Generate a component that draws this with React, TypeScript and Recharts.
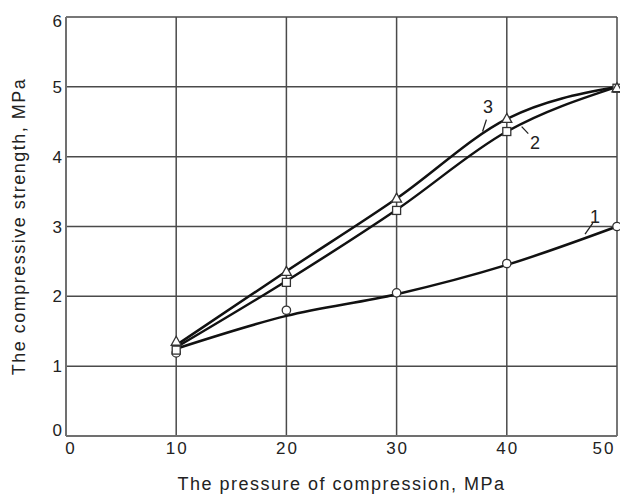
import React from 'react';
import {
  ComposedChart,
  Line,
  XAxis,
  YAxis,
  CartesianGrid,
  ReferenceDot,
  ReferenceLine,
  Label,
} from 'recharts';

// pressure of compression, MPa
const pressure = [10, 20, 30, 40, 50];

// smoothed curves as drawn
const curve1 = [1.25, 1.72, 2.03, 2.45, 3.0];
const curve2 = [1.27, 2.22, 3.24, 4.36, 5.0];
const curve3 = [1.3, 2.36, 3.4, 4.54, 5.0];

// measured points (markers)
const points1 = [1.19, 1.8, 2.05, 2.47, 3.0];
const points2 = [1.23, 2.2, 3.23, 4.36, 4.98];
const points3 = [1.35, 2.35, 3.4, 4.54, 4.98];

const xTicks = [0, 10, 20, 30, 40, 50];
const yTicks = [0, 1, 2, 3, 4, 5, 6];

const data = pressure.map((p, i) => ({
  p,
  c1: curve1[i],
  c2: curve2[i],
  c3: curve3[i],
  m1: points1[i],
  m2: points2[i],
  m3: points3[i],
}));

const INK = '#111';
const TEXT = '#222';
const GRID = '#4a4a4a';

const CircleDot = (props: any) => (
  <circle key={`c-${props.index}`} cx={props.cx} cy={props.cy} r={4.2} fill="#fff" stroke="#333" strokeWidth={1.3} />
);

const SquareDot = (props: any) => (
  <rect key={`s-${props.index}`} x={props.cx - 4} y={props.cy - 4} width={8} height={8} fill="#fff" stroke="#333" strokeWidth={1.3} />
);

const TriangleDot = (props: any) => (
  <polygon
    key={`t-${props.index}`}
    points={`${props.cx},${props.cy - 5.5} ${props.cx - 5},${props.cy + 3.5} ${props.cx + 5},${props.cy + 3.5}`}
    fill="#fff"
    stroke="#333"
    strokeWidth={1.3}
  />
);

const XTick = ({ x, y, payload }: any) => {
  const shift = payload.value === 0 ? 5 : payload.value === 50 ? -8 : 1;
  return (
    <text x={x + shift} y={y} dy="0.71em" textAnchor="middle" fontSize={17} letterSpacing={2} fill={TEXT}>
      {payload.value}
    </text>
  );
};

const YTick = ({ x, y, payload }: any) => {
  const shift = payload.value === 6 ? 4 : payload.value === 0 ? -6 : 0;
  return (
    <text x={x + 2} y={y + shift} dy="0.355em" textAnchor="end" fontSize={17} letterSpacing={2} fill={TEXT}>
      {payload.value}
    </text>
  );
};

const tagStyle = { fontSize: 18, fill: TEXT };

export default function App() {
  return (
    <div style={{ position: 'absolute', left: 0, top: 0, fontFamily: '"Liberation Sans", Arial, sans-serif' }}>
      <ComposedChart width={620} height={494} data={data} margin={{ top: 17, right: 3, bottom: 0, left: 0 }}>
        <CartesianGrid stroke={GRID} strokeWidth={1.5} />
        <XAxis
          dataKey="p"
          type="number"
          domain={[0, 50]}
          ticks={xTicks}
          height={58}
          tickLine={false}
          tickSize={4}
          tickMargin={2}
          axisLine={{ stroke: '#707070', strokeWidth: 2 }}
          tick={<XTick />}
        >
          <Label
            value="The pressure of compression, MPa"
            position="insideBottom"
            offset={4}
            style={{ fontSize: 18, letterSpacing: 1.5, fill: TEXT, textAnchor: 'middle' }}
          />
        </XAxis>
        <YAxis
          type="number"
          domain={[0, 6]}
          ticks={yTicks}
          width={66}
          tickLine={false}
          tickSize={4}
          tickMargin={0}
          axisLine={{ stroke: '#707070', strokeWidth: 2 }}
          tick={<YTick />}
        >
          <Label
            value="The compressive strength, MPa"
            angle={-90}
            position="insideLeft"
            offset={19}
            style={{ fontSize: 18, letterSpacing: 1.5, fill: TEXT, textAnchor: 'middle' }}
          />
        </YAxis>

        <Line type="monotone" dataKey="c1" stroke={INK} strokeWidth={2.5} dot={false} activeDot={false} isAnimationActive={false} />
        <Line type="monotone" dataKey="c2" stroke={INK} strokeWidth={2.5} dot={false} activeDot={false} isAnimationActive={false} />
        <Line type="monotone" dataKey="c3" stroke={INK} strokeWidth={2.5} dot={false} activeDot={false} isAnimationActive={false} />

        <Line dataKey="m1" stroke="none" dot={CircleDot} activeDot={false} isAnimationActive={false} />
        <Line dataKey="m2" stroke="none" dot={SquareDot} activeDot={false} isAnimationActive={false} />
        <Line dataKey="m3" stroke="none" dot={TriangleDot} activeDot={false} isAnimationActive={false} />

        {/* curve numbers with leaders */}
        <ReferenceLine segment={[{ x: 38.15, y: 4.53 }, { x: 37.8, y: 4.36 }]} stroke={TEXT} strokeWidth={1.3} />
        <ReferenceLine segment={[{ x: 41.35, y: 4.43 }, { x: 41.95, y: 4.33 }]} stroke={TEXT} strokeWidth={1.3} />
        <ReferenceLine segment={[{ x: 47.8, y: 3.05 }, { x: 47.1, y: 2.89 }]} stroke={TEXT} strokeWidth={1.3} />
        <ReferenceDot x={38.3} y={4.71} r={0} stroke="none" fill="none" label={{ value: '3', position: 'center', ...tagStyle }} />
        <ReferenceDot x={42.56} y={4.2} r={0} stroke="none" fill="none" label={{ value: '2', position: 'center', ...tagStyle }} />
        <ReferenceDot x={48.0} y={3.14} r={0} stroke="none" fill="none" label={{ value: '1', position: 'center', ...tagStyle }} />
      </ComposedChart>
    </div>
  );
}
